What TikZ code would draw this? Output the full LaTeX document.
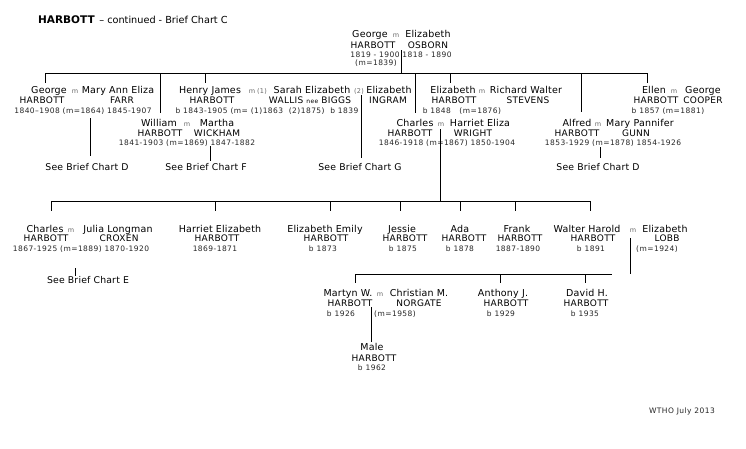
\documentclass[tikz,border=0pt]{standalone}
\usepackage{fontspec}
\setmainfont{DejaVu Sans}
\newfontfamily\nmfont[LetterSpace=2]{DejaVu Sans}
\newfontfamily\snfont[LetterSpace=3]{DejaVu Sans}
\newfontfamily\dtfont[LetterSpace=6]{DejaVu Sans}
\newfontfamily\ttlfont{DejaVu Sans}
\newcommand{\smallnee}{{\dtfont\fontsize{6}{8}\selectfont nee}}
\tikzset{
  txt/.style={inner sep=0pt, anchor=base},
  nm/.style={txt, font=\nmfont\fontsize{9.5}{10}\selectfont},
  sn/.style={txt, font=\snfont\fontsize{9}{10}\selectfont},
  dt/.style={txt, font=\dtfont\fontsize{7.5}{8}\selectfont, text=black!85},
  mm/.style={txt, font=\dtfont\fontsize{6.5}{8}\selectfont, text=black!60},
  see/.style={txt, font=\nmfont\fontsize{9.3}{10}\selectfont},
  ln/.style={line width=0.8pt, black}
}
\begin{document}
\begin{tikzpicture}[x=1pt,y=-1pt]
\fill[white] (0,0) rectangle (746,448);
\useasboundingbox (0,0) rectangle (746,448);

% title
\node[txt, anchor=base west, font=\ttlfont\fontsize{9.7}{10}\selectfont] (title) at (38,23)
  {{\fontsize{10.5}{12}\selectfont\bfseries HARBOTT} \,– continued - Brief Chart C};
\node[dt] (wtho) at (682,413) {WTHO July 2013};

% Row A
\node[nm] (a1) at (370,37) {George};
\node[mm] (am) at (396,37) {m};
\node[nm] (a2) at (428,37) {Elizabeth};
\node[sn] (a3) at (373,48) {HARBOTT};
\node[sn] (a4) at (428,48) {OSBORN};
\node[dt] (a5) at (375,57) {1819 - 1900};
\node[dt] (a6) at (427,57) {1818 - 1890};
\node[dt] (a7) at (376,65) {(m=1839)};

% Row B
\node[nm] (b1) at (49,93) {George};
\node[mm] (b1m) at (75,93) {m};
\node[nm] (b2) at (118,93) {Mary Ann Eliza};
\node[sn] (b3) at (42,103) {HARBOTT};
\node[sn] (b4) at (122,103) {FARR};
\node[dt] (b5) at (83,113) {1840–1908 (m=1864) 1845-1907};

\node[nm] (b6) at (210,93) {Henry James};
\node[mm] (b6m) at (252,93) {m};
\node[mm] (b6a) at (262,93) {(1)};
\node[nm] (b7) at (312,93) {Sarah Elizabeth};
\node[mm] (b7a) at (359,93) {(2)};
\node[sn] (b8) at (212,103) {HARBOTT};
\node[sn] (b9) at (310,103) {WALLIS \smallnee\ BIGGS};
\node[dt] (b10) at (267,113) {b 1843-1905 (m= (1)1863\ \ (2)1875)\ \ b 1839};

\node[nm] (b11) at (389,93) {Elizabeth};
\node[sn] (b12) at (388,103) {INGRAM};

\node[nm] (b13) at (453,93) {Elizabeth};
\node[mm] (b13m) at (482,93) {m};
\node[nm] (b14) at (526,93) {Richard Walter};
\node[sn] (b15) at (454,103) {HARBOTT};
\node[sn] (b16) at (528,103) {STEVENS};
\node[dt] (b17) at (462,113) {b 1848\ \ \ (m=1876)};

\node[nm] (b18) at (654,93) {Ellen};
\node[mm] (b18m) at (674,93) {m};
\node[nm] (b19) at (703,93) {George};
\node[sn] (b20) at (656,103) {HARBOTT};
\node[sn] (b21) at (703,103) {COOPER};
\node[dt] (b22) at (668,113) {b 1857 (m=1881)};

% Row C
\node[nm] (c1) at (159,126) {William};
\node[mm] (c1m) at (187,126) {m};
\node[nm] (c2) at (217,126) {Martha};
\node[sn] (c3) at (160,136) {HARBOTT};
\node[sn] (c4) at (217,136) {WICKHAM};
\node[dt] (c5) at (187,145) {1841-1903 (m=1869) 1847-1882};

\node[nm] (c6) at (415,126) {Charles};
\node[mm] (c6m) at (441,126) {m};
\node[nm] (c7) at (480,126) {Harriet Eliza};
\node[sn] (c8) at (410,136) {HARBOTT};
\node[sn] (c9) at (473,136) {WRIGHT};
\node[dt] (c10) at (447,145) {1846-1918 (m=1867) 1850-1904};

\node[nm] (c11) at (577,126) {Alfred};
\node[mm] (c11m) at (598,126) {m};
\node[nm] (c12) at (640,126) {Mary Pannifer};
\node[sn] (c13) at (577,136) {HARBOTT};
\node[sn] (c14) at (636,136) {GUNN};
\node[dt] (c15) at (613,145) {1853-1929 (m=1878) 1854-1926};

\node[see] (s1) at (87,170) {See Brief Chart D};
\node[see] (s2) at (206,170) {See Brief Chart F};
\node[see] (s3) at (360,170) {See Brief Chart G};
\node[see] (s4) at (598,170) {See Brief Chart D};

% Row D
\node[nm] (d1) at (45,232) {Charles};
\node[mm] (d1m) at (71,232) {m};
\node[nm] (d2) at (118,232) {Julia Longman};
\node[sn] (d3) at (46,241) {HARBOTT};
\node[sn] (d4) at (119,241) {CROXEN};
\node[dt] (d5) at (81,251) {1867-1925 (m=1889) 1870-1920};
\node[see] (d6) at (88,283) {See Brief Chart E};

\node[nm] (d7) at (220,232) {Harriet Elizabeth};
\node[sn] (d8) at (217,241) {HARBOTT};
\node[dt] (d9) at (215,251) {1869-1871};

\node[nm] (d10) at (325,232) {Elizabeth Emily};
\node[sn] (d11) at (326,241) {HARBOTT};
\node[dt] (d12) at (323,251) {b 1873};

\node[nm] (d13) at (402,232) {Jessie};
\node[sn] (d14) at (405,241) {HARBOTT};
\node[dt] (d15) at (403,251) {b 1875};

\node[nm] (d16) at (460,232) {Ada};
\node[sn] (d17) at (464,241) {HARBOTT};
\node[dt] (d18) at (460,251) {b 1878};

\node[nm] (d19) at (517,232) {Frank};
\node[sn] (d20) at (520,241) {HARBOTT};
\node[dt] (d21) at (518,251) {1887-1890};

\node[nm] (d22) at (587,232) {Walter Harold};
\node[sn] (d23) at (593,241) {HARBOTT};
\node[dt] (d24) at (591,251) {b 1891};
\node[mm] (d25) at (633,232) {m};
\node[nm] (d26) at (665,232) {Elizabeth};
\node[sn] (d27) at (667,241) {LOBB};
\node[dt] (d28) at (657,251) {(m=1924)};

% Row E
\node[nm] (e1) at (348,296) {Martyn W.};
\node[mm] (e1m) at (380,296) {m};
\node[nm] (e2) at (419,296) {Christian M.};
\node[sn] (e3) at (350,306) {HARBOTT};
\node[sn] (e4) at (419,306) {NORGATE};
\node[dt] (e5) at (341,316) {b 1926};
\node[dt] (e6) at (395,316) {(m=1958)};

\node[nm] (e7) at (503,296) {Anthony J.};
\node[sn] (e8) at (506,306) {HARBOTT};
\node[dt] (e9) at (501,316) {b 1929};

\node[nm] (e10) at (587,296) {David H.};
\node[sn] (e11) at (586,306) {HARBOTT};
\node[dt] (e12) at (585,316) {b 1935};

\node[nm] (f1) at (372,350) {Male};
\node[sn] (f2) at (374,361) {HARBOTT};
\node[dt] (f3) at (372,370) {b 1962};

% connector coordinates
\coordinate (gA) at (401,50);
\coordinate (gAb) at (401,73);
\coordinate (hL) at (45,73);
\coordinate (hR) at (647,73);
\foreach \x/\yy [count=\i] in {45/83,160/113,205/83,415/113,450/83,581/112,647/83}{
  \coordinate (top\i) at (\x,73);
  \coordinate (bot\i) at (\x,\yy);
}
\coordinate (gt1) at (361,95);  \coordinate (gb1) at (361,158);
\coordinate (ft1) at (90,118);  \coordinate (fb1) at (90,156);
\coordinate (wt1) at (210,146); \coordinate (wb1) at (210,161);
\coordinate (at1) at (600,147); \coordinate (ab1) at (600,158);
\coordinate (ct1) at (440,129); \coordinate (cb1) at (440,201);
\coordinate (gL) at (51,201);   \coordinate (gR) at (590,201);
\foreach \x [count=\i] in {51,215,330,400,460,515,590}{
  \coordinate (gt\i x) at (\x,201);
  \coordinate (gb\i x) at (\x,211);
}
\coordinate (et1) at (75,268);  \coordinate (eb1) at (75,276);
\coordinate (wht) at (630,238); \coordinate (whb) at (630,274);
\coordinate (kL) at (355,274);  \coordinate (kR) at (612,274);
\foreach \x [count=\i] in {355,500,585}{
  \coordinate (kt\i) at (\x,274);
  \coordinate (kb\i) at (\x,283);
}
\coordinate (mt1) at (371,307); \coordinate (mb1) at (371,342);

% connectors
\draw[ln] (gA) -- (gAb);
\draw[ln] (hL) -- (hR);
\foreach \i in {1,...,7}{ \draw[ln] (top\i) -- (bot\i); }
\draw[ln] (gt1) -- (gb1);
\draw[ln] (ft1) -- (fb1);
\draw[ln] (wt1) -- (wb1);
\draw[ln] (at1) -- (ab1);
\draw[ln] (ct1) -- (cb1);
\draw[ln] (gL) -- (gR);
\foreach \i in {1,...,7}{ \draw[ln] (gt\i x) -- (gb\i x); }
\draw[ln] (et1) -- (eb1);
\draw[ln] (wht) -- (whb);
\draw[ln] (kL) -- (kR);
\foreach \i in {1,...,3}{ \draw[ln] (kt\i) -- (kb\i); }
\draw[ln] (mt1) -- (mb1);
\end{tikzpicture}
\end{document}
